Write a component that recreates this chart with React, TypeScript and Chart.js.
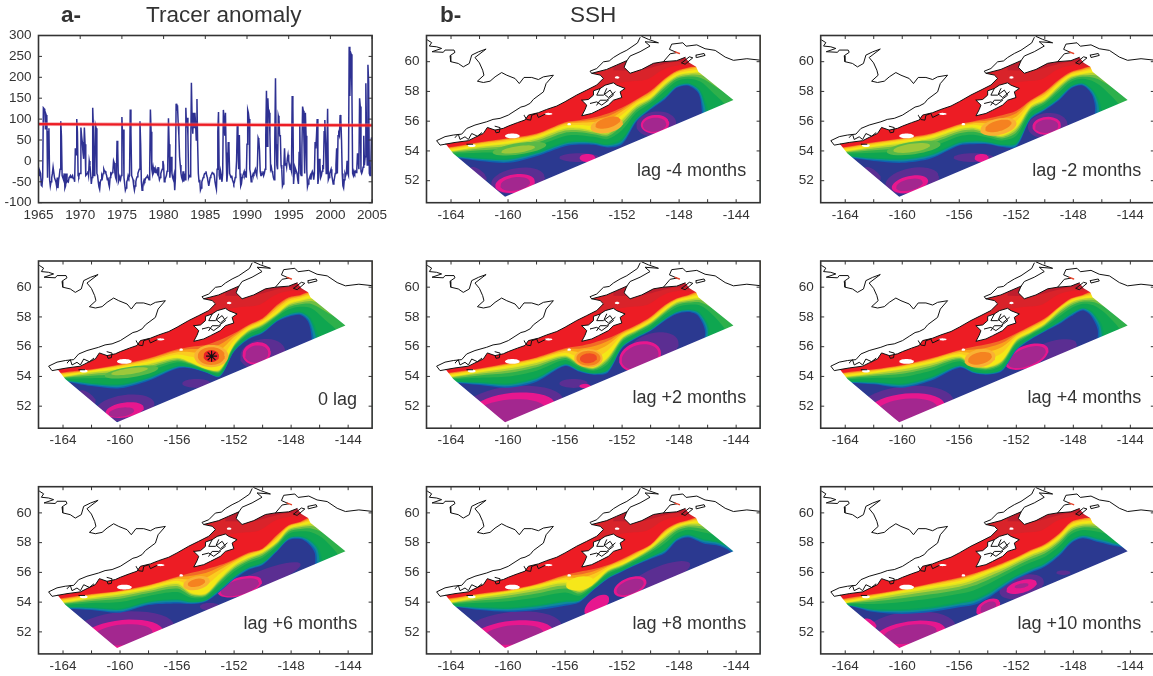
import React, { useEffect, useRef } from "react";
import { Chart, registerables } from "chart.js";

Chart.register(...registerables);

// ---------- Panel a: tracer anomaly, monthly values per year ----------
const tracerStartYear = 1965;
const tracerMonthly = [
  -20,-35,-25,-30,-58,-60,-40,127,125,120,75,110,
  105,-40,70,78,-45,-60,-50,-40,-30,-15,-15,-40,
  -45,-50,-60,-40,-65,-45,-35,-20,95,60,-35,-40,
  -45,-30,-65,-60,-30,-50,-48,-50,-40,-38,-35,-40,
  -38,-35,-42,-40,-50,30,15,100,70,-35,-38,-30,
  -30,80,60,45,20,5,80,40,-35,-33,-30,-25,
  -35,0,-10,-30,-55,-40,127,80,-35,-30,85,78,
  -30,-35,-50,-62,-68,-50,-45,-35,-40,-30,-20,-25,
  -25,-30,-35,-45,-40,-55,-62,-40,-30,-32,-28,-25,
  0,-5,-30,-40,-45,48,30,-50,-45,-40,-45,-35,
  105,60,75,-40,-55,-70,-65,-50,-45,-35,-40,-35,
  123,70,-35,-40,-45,-60,-70,-60,-50,-42,-38,-30,
  -25,-20,95,40,-50,-70,-65,-50,-45,-48,-42,-40,
  -38,-35,-40,-45,-20,123,70,-20,-30,-15,-25,-20,
  -28,-20,-25,-30,-15,-35,-45,-40,-30,-25,-20,0,
  -10,-50,-45,-40,-35,-25,-10,102,40,-40,-15,10,
  -30,-40,-45,-35,-70,-40,137,120,133,90,60,10,
  -10,-30,-40,-45,-25,-50,-30,-45,127,80,103,60,
  -40,-35,-38,20,187,100,65,115,80,115,90,50,
  148,40,-30,-50,-45,-70,-65,-50,-45,-40,-35,-30,
  -30,-25,-35,-40,-50,-60,-50,-40,-35,-32,-28,-30,
  -30,-35,-50,-60,-68,-20,70,117,-35,-45,-25,-35,
  -50,-30,122,100,60,115,20,-50,-30,45,35,-30,
  -35,-40,-35,-45,-50,-55,-50,-40,-30,0,85,45,
  -20,62,-30,-60,-55,-40,-35,-30,-25,-35,-30,-40,
  40,122,115,100,-20,-30,-50,-40,-35,-30,-32,-25,
  -20,-30,-35,-10,55,50,25,-25,-35,-35,-30,-25,
  -35,-30,-20,60,168,35,150,110,115,60,-20,-15,
  -25,-30,-40,-45,50,198,40,-10,-20,108,100,60,
  60,-10,-20,-60,-55,-15,30,-10,-5,-15,5,15,
  0,-10,-20,-18,-25,155,130,-55,-30,-15,-20,-25,
  -30,-45,-55,20,85,-30,-35,30,130,120,45,-30,
  115,60,-20,-62,-55,-45,-40,-35,-45,-30,-25,-30,
  -45,-30,45,30,60,100,-55,-40,5,-10,-40,-35,
  -25,-10,-20,70,98,40,-30,30,125,-45,-40,-30,
  -25,-20,-35,-45,-55,-50,-40,-30,-10,30,-30,60,
  65,60,110,100,50,-30,-60,-65,-45,-30,-35,-30,
  0,-30,-35,273,155,260,255,160,-30,-35,-25,-30,
  -25,-28,-20,18,5,-20,150,130,-25,-30,-25,-15,
  60,-10,10,186,60,-10,230,190,-30,-35,-25,55,
];
const thresholdYears = [1965, 2005];
const thresholdValues = [88, 85];
const yearTicks = [1965, 1970, 1975, 1980, 1985, 1990, 1995, 2000, 2005];
const anomalyTicks = [-100, -50, 0, 50, 100, 150, 200, 250, 300];

// ---------- Panel b: maps ----------
const lonTicks = [-164, -162, -160, -158, -156, -154, -152, -150, -148, -146, -144];
const latTicks = [52, 54, 56, 58, 60];

// Longitudes at which the SSH front was read in every panel
const stationLons = [-166,-164,-162,-160,-158,-156,-155,-154,-153,-152,-151,-150,-149,-148.16,-147.35];

// Eastern ends of the red and yellow contours
const redEnd = [[-146.53,59.77],[-145.12,60.1],[-143.02,59.88]];
const yellowEnd = [[-146.41,59.32],[-145.12,58.98],[-143.02,58.09]];

const lagM4Red = [54,54.27,54.59,54.86,55.17,55.93,56.07,56.25,56.52,56.92,57.46,58.04,58.87,59.39,59.61];
const lagM4Yellow = [53.78,54,54.32,54.54,54.9,55.57,55.57,55.39,55.28,56.18,57.08,57.59,58.53,59.09,59.25];
const lagM4Blue = [53.38,53.56,53.33,53.2,53.65,54.32,54.43,54.41,54.23,54.45,55.96,56.78,57.46,58.24,58.38];
const lagM4BlueEnd = [[-146.64,57.86],[-146.41,56.74],[-146.41,55.17]];
const lagM4Patches = [
  ["purple",-159.3,52,1.9,0.85,8],["purple",-162.1,52.45,0.7,0.3,-35],["magenta",-159.51,51.81,1.4,0.62,8],["violet",-159.5,51.78,1.05,0.45,8],
  ["purple",-155,53.55,1.4,0.3,0],["magenta",-154.43,53.53,0.55,0.27,0],
  ["purple",-149.6,55.8,1.4,0.85,5],["magenta",-149.69,55.8,1,0.62,5],["violet",-149.72,55.76,0.82,0.47,5],
  ["limeSoft",-159.2,54.15,1.9,0.38,8],["lime",-159.3,54.1,1.2,0.22,8],["orangeSoft",-153.08,55.72,1.15,0.5,10],["orange",-153,55.9,0.9,0.35,15],
];

const lagM2Red = [54,54.27,54.59,54.86,55.17,55.8,56,56.18,56.4,56.7,57.41,58,58.8,59.32,59.54];
const lagM2Yellow = [53.78,54,54.32,54.59,54.9,55.51,55.62,55.28,55.06,55.62,57.01,57.5,58.42,59.03,59.21];
const lagM2Blue = [53.38,53.56,53.33,53.2,53.49,54.36,54.45,54.45,54.27,54.27,56.11,56.74,57.41,58.2,58.4];
const lagM2BlueEnd = [[-146.72,57.82],[-146.48,56.96],[-146.48,55.17]];
const lagM2Patches = [
  ["purple",-159.3,52,1.9,0.85,10],["purple",-162.1,52.45,0.7,0.3,-35],["magenta",-159.46,51.76,1.3,0.55,12],["violet",-159.5,51.72,0.95,0.38,12],
  ["purple",-155,53.55,1.4,0.3,0],["magenta",-154.43,53.53,0.5,0.27,0],
  ["purple",-149.8,55.7,1.4,0.85,5],["magenta",-149.87,55.69,1,0.6,5],["violet",-149.87,55.66,0.82,0.45,5],
  ["limeSoft",-159.2,54.2,1.9,0.42,8],["lime",-159.34,54.2,1.3,0.28,8],["orangeSoft",-153.26,55.62,1.3,0.55,12],["orange",-153.26,55.68,0.95,0.36,15],
];

const lag0Red = [54,54.27,54.48,54.81,55.22,55.82,56,56.11,56.45,56.9,57.46,57.91,58.8,59.32,59.48];
const lag0Yellow = [53.78,54,54.32,54.54,54.88,55.28,54.95,54.54,54.48,56.18,57.12,57.57,58.24,58.91,59.14];
const lag0Blue = [53.38,53.65,53.35,53.2,53.71,54.54,54.54,54.27,53.98,55.66,56.49,56.9,57.68,58.02,58.13];
const lag0BlueEnd = [[-146.81,57.68],[-146.57,56.67],[-146.5,55.17]];
const lag0Patches = [
  ["purple",-159.67,51.9,2.1,0.85,8],["purple",-162.3,52.6,0.7,0.3,-35],["magenta",-159.67,51.74,1.35,0.5,8],["violet",-159.9,51.6,0.9,0.3,8],
  ["purple",-154.64,53.53,1,0.3,0],
  ["purple",-150,55.5,1.6,1,10],["magenta",-150.42,55.55,1,0.75,10],["violet",-150.42,55.5,0.82,0.58,10],
  ["limeSoft",-159.2,54.3,1.9,0.36,8],["lime",-159.33,54.35,1.3,0.2,8],["orangeSoft",-153.6,55.37,1.2,0.75,0],["orange",-153.6,55.37,0.95,0.6,0],["red",-153.6,55.37,0.55,0.4,0],
];
const starLon = [-153.58];
const starLat = [55.36];

const lagP2Red = [54,54.27,54.54,54.88,55.28,55.89,56.04,56.27,56.56,57.01,57.46,58.02,58.8,59.25,59.48];
const lagP2Yellow = [53.78,54,54.32,54.61,54.99,55.44,54.88,54.61,55.33,56.63,57.14,57.68,58.47,59.03,59.21];
const lagP2Blue = [53.38,53.56,53.42,53.24,53.65,54.7,54.32,54.12,54.25,55.89,56.56,57.05,57.75,58.2,58.33];
const lagP2BlueEnd = [[-146.69,58.09],[-146.18,57.01],[-146.41,55.17]];
const lagP2Patches = [
  ["purple",-159.6,52.1,3.5,1.25,5],["magenta",-159.6,51.9,2.9,1,5],["violet",-159.86,51.6,2.5,0.85,5],
  ["purple",-155.4,53.53,1,0.3,0],["magenta",-154.6,53.35,0.4,0.15,0],
  ["purple",-149.8,55.9,1.8,1,15],["magenta",-150.74,55.33,1.5,1,15],["violet",-150.74,55.3,1.32,0.82,15],
  ["orangeSoft",-154.36,55.22,1,0.62,0],["orange",-154.36,55.22,0.85,0.5,0],["redSoft",-154.36,55.22,0.6,0.33,5],
];

const lagP4Red = [54,54.27,54.48,54.77,55.22,55.78,56,56.18,56.45,56.9,57.39,57.91,58.69,59.25,59.48];
const lagP4Yellow = [53.78,54,54.25,54.54,54.92,55.37,54.77,54.65,55.1,56.49,57.01,57.57,58.47,59.03,59.25];
const lagP4Blue = [53.38,53.56,53.47,53.24,53.71,54.59,54.23,54.12,54.36,55.75,56.47,57.01,57.5,58.04,58.44];
const lagP4BlueEnd = [[-146.81,58.13],[-146.29,57.12],[-146.29,55.17]];
const lagP4Patches = [
  ["purple",-159.7,52.1,3.3,1.25,5],["magenta",-159.7,51.85,2.7,1,5],["violet",-159.7,51.7,2.2,0.8,5],
  ["purple",-149.4,55.78,1.7,0.6,15],["magenta",-151.27,55.33,1.6,0.75,20],["violet",-151.27,55.3,1.4,0.6,20],
  ["orangeSoft",-154.55,55.22,1.1,0.6,10],["orange",-154.55,55.22,0.85,0.4,12],
];

const lagP6Red = [54,54.27,54.54,54.77,55.15,55.71,55.98,56.2,56.49,56.87,57.32,57.61,58.51,59.18,59.41];
const lagP6Yellow = [53.78,54,54.32,54.59,54.92,55.3,54.63,54.59,55.6,56.49,57.01,57.39,58.06,58.96,59.18];
const lagP6Blue = [53.38,53.56,53.47,53.29,53.8,53.91,53.87,54.03,54.7,55.53,56.16,56.49,57.39,58.17,58.24];
const lagP6BlueEnd = [[-146.81,57.95],[-146.34,57.28],[-146.22,55.17]];
const lagP6Patches = [
  ["purple",-159.79,52.1,3.6,1.25,5],["magenta",-159.79,51.85,2.8,0.95,5],["violet",-159.79,51.8,2.1,0.7,5],
  ["purple",-153.7,53.7,0.7,0.25,0],
  ["purple",-149.97,55.6,2.8,0.55,20],["magenta",-151.6,55.04,1.6,0.62,15],["violet",-151.6,55,1.38,0.5,15],
  ["orangeSoft",-154.64,55.28,0.95,0.45,12],["orange",-154.64,55.3,0.62,0.26,12],
];

const lagP8Red = [54,54.27,54.57,54.81,55.22,55.82,56.04,56.22,56.49,56.9,57.39,57.88,58.85,59.3,59.52];
const lagP8Yellow = [53.78,54,54.36,54.65,55.01,55.37,54.81,55.26,56.16,56.54,57.05,57.66,58.51,59.07,59.3];
const lagP8Blue = [53.38,53.67,53.47,53.35,53.47,53.76,53.98,54.81,55.55,56.04,56.49,56.9,57.28,58.11,58.35];
const lagP8BlueEnd = [[-146.29,57.95],[-145.12,57.75],[-143.95,56.96]];
const lagP8Patches = [
  ["purple",-159.63,52.15,3.4,1.2,5],["magenta",-159.63,51.85,2.8,0.9,5],["violet",-159.63,51.8,2.1,0.65,5],
  ["purple",-149.3,55.82,2.2,0.6,20],["magenta",-153.78,53.8,1,0.5,35],["magenta",-151.44,55.04,1.2,0.6,20],["violet",-151.44,55.02,1,0.46,20],
  ["yellowCore",-154.95,55.26,1,0.45,10],
];

const lagP10Red = [54,54.25,54.54,54.86,55.26,55.66,55.93,56.25,56.61,57.01,57.5,57.91,58.62,59.41,59.63];
const lagP10Yellow = [53.74,53.96,54.32,54.68,54.99,55.3,55.6,55.98,56.34,56.78,57.23,57.61,58.29,59.07,59.3];
const lagP10Blue = [53.49,53.78,53.33,53.2,53.33,53.65,53.8,54.25,54.92,55.53,55.98,56.38,57.1,57.95,58.29];
const lagP10BlueEnd = [[-146.36,58.06],[-145.43,57.84],[-144.14,57.39]];
const lagP10Patches = [
  ["purple",-159.46,52.15,3.2,1.2,5],["magenta",-162.26,52.57,0.5,0.25,-30],["magenta",-159.46,51.85,2.5,0.85,8],["violet",-159.46,51.85,1.9,0.62,8],
  ["purple",-151.63,55.04,1.6,0.75,15],["purple",-148.7,55.98,0.5,0.15,0],
  ["magenta",-151.63,55.04,1.1,0.42,15],["violet",-151.63,55.1,0.5,0.15,10],["magenta",-153.97,53.65,0.9,0.5,25],["violet",-153.97,53.65,0.6,0.33,25],
];

const lagLabels = ["lag -4 months","lag -2 months","0 lag","lag +2 months","lag +4 months","lag +6 months","lag +8 months","lag +10 months"];
const lagLabelLons = [-143.3,-143.24,-143.37,-143.3,-143.24,-143.37,-143.3,-143.24];
const lagLabelLats = [52.67,52.67,52.42,52.55,52.55,52.53,52.53,52.53];

// Coastline, in degrees
const northCoast = [[-165.66,61.46],[-165.36,61.28],[-165.52,61.05],[-165.01,61],[-164.66,60.89],[-165.33,60.67],[-164.54,60.63],[-164.42,60.78],[-163.79,60.78],[-163.72,60.63],[-164.07,60.4],[-164.02,60],[-163.49,59.88],[-163.14,59.65],[-162.72,59.88],[-162.55,60.44],[-162.08,60.66],[-161.54,60.85],[-162.32,60.28],[-162.01,59.92],[-161.78,59.43],[-161.69,59.09],[-162.15,58.69],[-161.73,58.6],[-161.26,58.69],[-160.91,58.98],[-160.45,59.27],[-160.09,59.09],[-159.51,58.87],[-159.21,58.53],[-158.88,58.94],[-158.34,58.94],[-157.87,58.8],[-157.52,58.98],[-156.82,59.09],[-157.33,58.53],[-157.52,57.97],[-158.22,57.47],[-158.45,57.2],[-158.81,57.02],[-159.1,56.95],[-159.51,56.7],[-159.98,56.41],[-160.56,56.19],[-161.05,56.12],[-161.5,55.96],[-162.32,55.74],[-162.9,55.51],[-163.25,55.13],[-163.84,55.07],[-164.42,54.96],[-165.01,54.69],[-164.77,54.39],[-164.37,54.46]];
const southCoast = [[-164.37,54.46],[-163.72,54.57],[-162.78,54.69],[-162.32,54.91],[-161.73,55.18],[-161.45,55.58],[-160.91,55.4],[-160.33,55.52],[-159.98,55.67],[-159.35,55.9],[-158.81,56.08],[-158.57,56.41],[-157.87,56.57],[-157.29,56.79],[-156.58,57.02],[-156,57.31],[-155.18,57.76],[-154.48,58.09],[-153.78,58.43],[-153.31,58.88],[-153.54,59.1],[-154.13,59.22],[-153.08,59.48],[-152.37,59.78],[-151.67,60.07],[-151.86,59.62],[-151.44,59.22],[-150.62,59.48],[-149.8,59.89],[-149.1,60],[-148.17,60.07],[-147.58,60.29]];
const domainEdge = [[-147.28,59.93],[-146.81,59.66],[-146.65,59.33],[-144.19,57.42],[-160.21,50.92],[-160.56,51.19],[-163.84,53.83]];
const cookWestCoast = [[-154.13,59.21],[-154.25,59.36],[-153.78,59.54],[-153.31,59.99],[-152.9,60.05],[-152.61,60.28],[-152.14,60.55],[-151.67,60.77],[-150.92,61.26],[-150.74,61.62]];
const upperArmCoast = [[-151.67,60.06],[-151.44,60.38],[-150.74,60.67],[-150.04,61.05],[-150.39,61.34],[-149.45,61.27],[-150.15,61.5],[-150.62,61.7]];
const princeWilliamCoast = [[-149.1,60],[-148.63,60.53],[-148.16,60.61],[-148.68,60.83],[-148.52,61.18],[-147.74,61.27],[-147.51,61.04],[-146.76,61.13],[-146.18,60.87],[-145.47,60.76],[-144.77,60.31],[-144.19,60.09],[-143.25,60.2],[-142.2,60.09]];
const peninsulaInletsWest = [[-163.72,54.9],[-163.49,55.13],[-163.37,54.77],[-163.02,54.95],[-162.78,54.77],[-162.55,55.17],[-162.15,54.99],[-161.85,55.22]];
const peninsulaInletsMid = [[-160.91,55.4],[-160.84,55.22],[-160.61,55.26],[-160.56,55.57],[-160.91,55.66]];
const peninsulaInletsEast = [[-158.88,56.4],[-158.69,56.11],[-158.41,56.07],[-158.34,56.4],[-157.99,56.52],[-157.87,56.25],[-157.4,56.47]];
const kodiakIsland = [[-154.83,57.41],[-154.36,57.46],[-154.01,57.75],[-154.01,58.04],[-153.54,58.2],[-153.19,58.42],[-152.61,58.58],[-152.37,58.42],[-151.79,58.2],[-152.14,57.97],[-152.02,57.59],[-152.61,57.41],[-152.96,57.08],[-153.66,56.74],[-154.13,56.52],[-154.83,56.36],[-154.6,56.78],[-154.48,57.08],[-154.83,57.41]];
const kodiakInlets = [[-153.54,58.2],[-153.78,57.75],[-153.31,57.75],[-152.84,58.09],[-152.61,57.75],[-153.08,57.41],[-153.54,57.41],[-153.78,57.08]];
const kodiakBayNorth = [[-153.08,58.2],[-153.26,57.82],[-152.96,57.59],[-152.49,57.97]];
const kodiakBaySouth = [[-154.25,57.19],[-153.78,57.3],[-153.43,57.08],[-152.96,57.41]];
const montagueIsland = [[-147.82,59.92],[-147.28,60.33],[-147.04,60.26],[-147.58,59.83],[-147.82,59.92]];
const hinchinbrookIsland = [[-146.81,60.44],[-146.25,60.55],[-146.18,60.42],[-146.76,60.28],[-146.81,60.44]];
const sandPoint = [[-162.9,54.45],[-162.48,54.45]];
const redDash = [[-148.28,60.66],[-147.98,60.55]];
const whiteGaps = [[-159.7,55.01,0.52,0.16,0],[-162.55,54.36,0.28,0.1,0],[-157.17,56.49,0.28,0.07,0],[-155.72,55.8,0.14,0.08,0],[-152.35,58.94,0.16,0.08,0]];
const darkRedEdge = [[-153.9,58.2],[-153.54,58.31],[-151.67,58.65],[-150.27,58.8],[-149.1,59.48],[-147.93,59.77],[-146.53,59.77]];
const darkestRedEdge = [[-152.61,59.43],[-150.74,59.43],[-149.1,59.83],[-148.16,59.99],[-146.76,59.92]];

// ---------- Styling ----------
const INK = "#333333";
const FONT = '"Liberation Sans", Arial, sans-serif';
const X_MIN = -165.72, X_MAX = -142.32, Y_MIN = 50.52, Y_MAX = 61.76;
const FRAME_W = 333.6, FRAME_H = 167.2;
const COLS = [38.5, 426.5, 820.7];
const ROWS = [35.5, 261, 486.7];
const PATCH_COLORS = {
  purple: "#5B2E92", magenta: "#E7178E", violet: "#A3278F",
  lime: "#9CC83B", limeSoft: "#59B947", orangeSoft: "#F9B233", orange: "#F58220",
  red: "#EA2227", redSoft: "#EF4B24", yellowCore: "#F6E71A",
};
const COLD = new Set(["purple", "magenta", "violet"]);
const LOW_BANDS = [
  [0, "#0F62B0"], [0.07, "#0E8A9A"], [0.15, "#07A060"], [0.22, "#0FA650"],
  [0.55, "#2EB04B"], [0.72, "#6FBE44"], [0.84, "#B4D234"], [0.94, "#E3E31F"], [1, "#F4E816"],
];
const HIGH_BANDS = [[0.35, "#FBCB20"], [0.65, "#F9A11B"], [0.85, "#F26B26"], [1, "#ED1C24"]];

const pts = (pairs) => pairs.map(([x, y]) => ({ x, y }));
const curveOf = (lats, end) => [...lats.map((y, i) => ({ x: stationLons[i], y })), ...pts(end)];
const mixCurve = (a, b, f) => a.map((p, i) => ({ x: p.x + (b[i].x - p.x) * f, y: p.y + (b[i].y - p.y) * f }));
const closeAbove = (curve) => [...curve, { x: -142, y: 50 }, { x: -142, y: 63 }, { x: -167, y: 63 }, { x: -167, y: curve[0].y }];
const closeTop = (curve) => [...curve, { x: curve[curve.length - 1].x, y: 63 }, { x: curve[0].x, y: 63 }];
const ellipse = (lon, lat, rx, ry, tilt) => {
  const t = (tilt * Math.PI) / 180, out = [];
  for (let k = 0; k < 36; k++) {
    const a = (k * Math.PI) / 18, ex = rx * Math.cos(a), ey = ry * Math.sin(a);
    out.push({ x: lon + ex * Math.cos(t) - ey * Math.sin(t), y: lat + ex * Math.sin(t) + ey * Math.cos(t) });
  }
  return out;
};
const area = (data, backgroundColor, tension = 0) => ({
  type: "line", data, backgroundColor, fill: "shape", borderWidth: 0, pointRadius: 0, tension,
});
const stroke = (data, borderColor, borderWidth = 1) => ({
  type: "line", data, borderColor, borderWidth, pointRadius: 0, fill: false, tension: 0,
  borderJoinStyle: "round", borderCapStyle: "round",
});

function mapDatasets(red, yellow, blue, blueEnd, patches, star) {
  const R = curveOf(red, redEnd), Y = curveOf(yellow, yellowEnd), B = curveOf(blue, blueEnd);
  const layers = [];
  layers.push(area([{ x: -167, y: 49 }, { x: -141, y: 49 }, { x: -141, y: 64 }, { x: -167, y: 64 }], "#2B3990"));
  const patch = (p) => area(ellipse(p[1], p[2], p[3], p[4], p[5]), PATCH_COLORS[p[0]]);
  patches.filter((p) => COLD.has(p[0])).forEach((p) => layers.push(patch(p)));
  LOW_BANDS.forEach(([f, c]) => layers.push(area(closeAbove(mixCurve(B, Y, f)), c, 0.3)));
  HIGH_BANDS.forEach(([f, c]) => layers.push(area(closeAbove(mixCurve(Y, R, f)), c, 0.3)));
  layers.push(area(closeTop(pts(darkRedEdge)), "#D9232A", 0.3));
  layers.push(area(closeTop(pts(darkestRedEdge)), "#BE1E2D", 0.3));
  patches.filter((p) => !COLD.has(p[0])).forEach((p) => layers.push(patch(p)));
  // Everything outside the model domain is left white: a frame with the domain as its hole.
  const tip = southCoast[0];
  const mask = [
    { x: -167, y: tip[1] }, ...pts(southCoast), ...pts(domainEdge), { x: tip[0], y: tip[1] },
    { x: -167, y: tip[1] }, { x: -167, y: 50 }, { x: -142, y: 50 }, { x: -142, y: 63 }, { x: -167, y: 63 },
  ];
  layers.push(area(mask, "#FFFFFF"));
  layers.push(area(pts(kodiakIsland), "#FFFFFF"));
  whiteGaps.forEach((g) => layers.push(area(ellipse(g[0], g[1], g[2], g[3], g[4]), "#FFFFFF")));
  [northCoast, southCoast, cookWestCoast, upperArmCoast, princeWilliamCoast, peninsulaInletsWest, peninsulaInletsMid, peninsulaInletsEast,
    kodiakIsland, kodiakInlets, kodiakBayNorth, kodiakBaySouth, montagueIsland, hinchinbrookIsland, sandPoint]
    .forEach((c) => layers.push(stroke(pts(c), "#111111", 1)));
  layers.push(stroke(pts(redDash), "#E8452C", 1.4));
  if (star) {
    layers.push({
      type: "line", data: star, showLine: false, pointStyle: "star", pointRadius: 5.5,
      borderColor: "#111111", backgroundColor: "#111111", pointBorderWidth: 1.2,
    });
  }
  return layers.reverse(); // Chart.js paints the last dataset first
}

function framePlugin(xMarks, yMarks, markLen, label) {
  return {
    id: "frameMarks",
    afterDatasetsDraw(chart) {
      const { ctx, chartArea: a, scales } = chart;
      ctx.save();
      ctx.strokeStyle = INK;
      ctx.lineWidth = 1;
      ctx.beginPath();
      xMarks.forEach((v) => {
        const x = scales.x.getPixelForValue(v);
        ctx.moveTo(x, a.top); ctx.lineTo(x, a.top + markLen);
        ctx.moveTo(x, a.bottom); ctx.lineTo(x, a.bottom - markLen);
      });
      yMarks.forEach((v) => {
        const y = scales.y.getPixelForValue(v);
        ctx.moveTo(a.left, y); ctx.lineTo(a.left + markLen, y);
        ctx.moveTo(a.right, y); ctx.lineTo(a.right - markLen, y);
      });
      ctx.stroke();
      ctx.lineWidth = 1.6;
      ctx.strokeRect(a.left, a.top, a.right - a.left, a.bottom - a.top);
      if (label) {
        ctx.fillStyle = INK;
        ctx.font = `18px ${FONT}`;
        ctx.textAlign = "right";
        ctx.textBaseline = "middle";
        ctx.fillText(label.text, scales.x.getPixelForValue(label.lon), scales.y.getPixelForValue(label.lat));
      }
      ctx.restore();
    },
  };
}

const CANVAS_W = 390, CANVAS_H = 200;

function panelConfig(frameX, frameY, datasets, x, y, plugin) {
  const left = frameX - Math.floor(frameX) + 38;
  const top = frameY - Math.floor(frameY) + 10;
  const tickFont = { family: FONT, size: 13.5 };
  return {
    type: "line",
    data: { datasets },
    plugins: [plugin],
    options: {
      animation: false,
      responsive: false,
      devicePixelRatio: 1,
      parsing: true,
      events: [],
      layout: { padding: { top, right: CANVAS_W - left - FRAME_W, left: 0, bottom: 0 } },
      plugins: { legend: { display: false }, title: { display: false }, tooltip: { enabled: false } },
      scales: {
        x: {
          type: "linear", min: x.min, max: x.max,
          grid: { display: false, drawTicks: false }, border: { display: false },
          afterFit: (s) => { s.height = CANVAS_H - top - FRAME_H; s.paddingLeft = 0; s.paddingRight = 0; },
          afterBuildTicks: (s) => { s.ticks = x.labels.map((value) => ({ value })); },
          ticks: { color: INK, font: tickFont, padding: 4, maxRotation: 0, autoSkip: false, callback: (v) => String(v) },
        },
        y: {
          type: "linear", min: y.min, max: y.max,
          grid: { display: false, drawTicks: false }, border: { display: false },
          afterFit: (s) => { s.width = left; s.paddingTop = 0; s.paddingBottom = 0; },
          afterBuildTicks: (s) => { s.ticks = y.labels.map((value) => ({ value })); },
          ticks: { color: INK, font: tickFont, padding: 7, autoSkip: false, callback: (v) => String(v) },
        },
      },
    },
  };
}

function tracerChart() {
  const series = tracerMonthly.map((y, i) => ({ x: tracerStartYear + i / 12, y }));
  const threshold = thresholdYears.map((x, i) => ({ x, y: thresholdValues[i] }));
  const datasets = [
    stroke(threshold, "#ED1C24", 2.4),
    stroke(threshold, "rgba(240,110,120,0.45)", 4),
    { ...stroke(series, "#2E3192", 1.5), borderJoinStyle: "miter" },
  ];
  return panelConfig(COLS[0], ROWS[0], datasets,
    { min: 1965, max: 2005, labels: yearTicks }, { min: -100, max: 300, labels: anomalyTicks },
    framePlugin(yearTicks, anomalyTicks, 3.5, null));
}

function mapChart(col, row, index, red, yellow, blue, blueEnd, patches, star) {
  const starData = star ? star.lon.map((x, i) => ({ x, y: star.lat[i] })) : null;
  const label = { text: lagLabels[index], lon: lagLabelLons[index], lat: lagLabelLats[index] };
  return panelConfig(COLS[col], ROWS[row], mapDatasets(red, yellow, blue, blueEnd, patches, starData),
    { min: X_MIN, max: X_MAX, labels: lonTicks.filter((v) => (v + 164) % 4 === 0) },
    { min: Y_MIN, max: Y_MAX, labels: latTicks },
    framePlugin(lonTicks, latTicks, 3.5, label));
}

const PANELS = [
  { col: 0, row: 0, make: tracerChart },
  { col: 1, row: 0, make: () => mapChart(1, 0, 0, lagM4Red, lagM4Yellow, lagM4Blue, lagM4BlueEnd, lagM4Patches) },
  { col: 2, row: 0, make: () => mapChart(2, 0, 1, lagM2Red, lagM2Yellow, lagM2Blue, lagM2BlueEnd, lagM2Patches) },
  { col: 0, row: 1, make: () => mapChart(0, 1, 2, lag0Red, lag0Yellow, lag0Blue, lag0BlueEnd, lag0Patches, { lon: starLon, lat: starLat }) },
  { col: 1, row: 1, make: () => mapChart(1, 1, 3, lagP2Red, lagP2Yellow, lagP2Blue, lagP2BlueEnd, lagP2Patches) },
  { col: 2, row: 1, make: () => mapChart(2, 1, 4, lagP4Red, lagP4Yellow, lagP4Blue, lagP4BlueEnd, lagP4Patches) },
  { col: 0, row: 2, make: () => mapChart(0, 2, 5, lagP6Red, lagP6Yellow, lagP6Blue, lagP6BlueEnd, lagP6Patches) },
  { col: 1, row: 2, make: () => mapChart(1, 2, 6, lagP8Red, lagP8Yellow, lagP8Blue, lagP8BlueEnd, lagP8Patches) },
  { col: 2, row: 2, make: () => mapChart(2, 2, 7, lagP10Red, lagP10Yellow, lagP10Blue, lagP10BlueEnd, lagP10Patches) },
];

function Panel({ col, row, make }) {
  const ref = useRef(null);
  useEffect(() => {
    const chart = new Chart(ref.current, make());
    return () => chart.destroy();
  }, [make]);
  return (
    <canvas
      ref={ref}
      width={CANVAS_W}
      height={CANVAS_H}
      style={{
        position: "absolute",
        left: Math.floor(COLS[col]) - 38,
        top: Math.floor(ROWS[row]) - 10,
        width: CANVAS_W,
        height: CANVAS_H,
      }}
    />
  );
}

const headingStyle = {
  position: "absolute", top: 1, fontFamily: FONT, fontSize: 22.5, lineHeight: "27px", color: INK, whiteSpace: "nowrap",
};

export default function App() {
  return (
    <div style={{ position: "fixed", left: 0, top: 0, width: 1153, height: 676, overflow: "hidden", background: "#fff" }}>
      {PANELS.map((p) => <Panel key={`${p.col}-${p.row}`} {...p} />)}
      <div style={{ ...headingStyle, left: 61, fontWeight: "bold" }}>a-</div>
      <div style={{ ...headingStyle, left: 146 }}>Tracer anomaly</div>
      <div style={{ ...headingStyle, left: 440, fontWeight: "bold" }}>b-</div>
      <div style={{ ...headingStyle, left: 570 }}>SSH</div>
    </div>
  );
}
